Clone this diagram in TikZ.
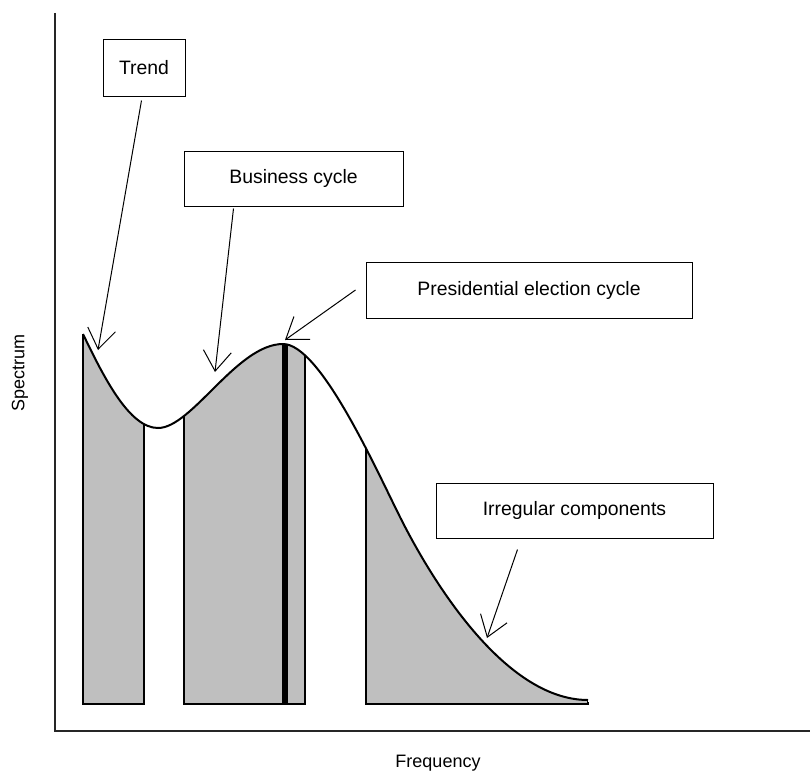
\documentclass[tikz,border=0pt]{standalone}
\usepackage{fontspec}
\setmainfont{Liberation Sans}
\usetikzlibrary{arrows.meta, positioning}

% the spectrum curve, in picture units (1 unit = 1pt, y going down)
\newcommand\spectrumcurve{(83,334) .. controls (105,380) and (130,428) .. (158,428)
    .. controls (192,428) and (237,344) .. (283,344)
    .. controls (320,344) and (375,467) .. (400,517)
    .. controls (425,567) and (500,700) .. (588,700)}

\begin{document}
\begin{tikzpicture}[
    x=1pt, y=-1pt,
    axis/.style={line width=1.8pt, black!85}, % Style for axes
    band/.style={fill=black!25, draw=black, line width=1.4pt}, % Shaded bands
    curve/.style={line width=2pt, black}, % Style for the spectrum curve
    peakline/.style={line width=6pt, black}, % Election cycle frequency
    labelbox/.style={draw, line width=1pt, inner sep=0pt,
        font=\fontsize{19.4}{23}\selectfont}, % Style for the label boxes
    axislabel/.style={font=\fontsize{18}{22}\selectfont}, % Axis labels
    pointer/.style={-{Straight Barb[length=20pt, width=28pt]}, line width=1pt} % Arrows
]
    \useasboundingbox (0,0) rectangle (810,776);

    % Axes
    \draw[axis] (55,13) -- (55,731) -- (810,731);
    \node[axislabel, rotate=90] (spectrum) at (20,373) {Spectrum};
    \node[axislabel] (frequency) at (438,763) {Frequency};

    % Shaded bands under the curve
    \foreach \l/\r in {83/144, 184/305, 366/588} {
        \begin{scope}
            \clip \spectrumcurve -- (592,712) -- (80,712) -- (80,334) -- cycle;
            \filldraw[band] (\l,300) rectangle (\r,704);
        \end{scope}
    }
    \begin{scope}
        \clip \spectrumcurve -- (592,712) -- (80,712) -- (80,334) -- cycle;
        \draw[peakline] (285,300) -- (285,704);
    \end{scope}

    % The curve itself
    \draw[curve] \spectrumcurve;

    % Label boxes
    \node[labelbox, minimum width=82pt, minimum height=56pt] (trend) at (144,68) {Trend};
    \node[labelbox, minimum width=219pt, minimum height=55pt] (business) at (293.5,178.5) {Business cycle};
    \node[labelbox, minimum width=326pt, minimum height=56pt] (election) at (529,290) {Presidential election cycle};
    \node[labelbox, minimum width=277pt, minimum height=55pt] (irregular) at (574.5,510.5) {Irregular components};

    % Arrow tips on the curve
    \coordinate (trendtip) at (98,350);
    \coordinate (businesstip) at (215,372);
    \coordinate (electiontip) at (285,340);
    \coordinate (irregulartip) at (487,638);

    % Arrows
    \draw[pointer] ([xshift=39pt, yshift=-4pt]trend.south west) -- (trendtip);
    \draw[pointer] ([xshift=50pt, yshift=-2pt]business.south west) -- (businesstip);
    \draw[pointer] ([xshift=-10pt]election.west) -- (electiontip);
    \draw[pointer] ([xshift=82pt, yshift=-11pt]irregular.south west) -- (irregulartip);

\end{tikzpicture}
\end{document}
